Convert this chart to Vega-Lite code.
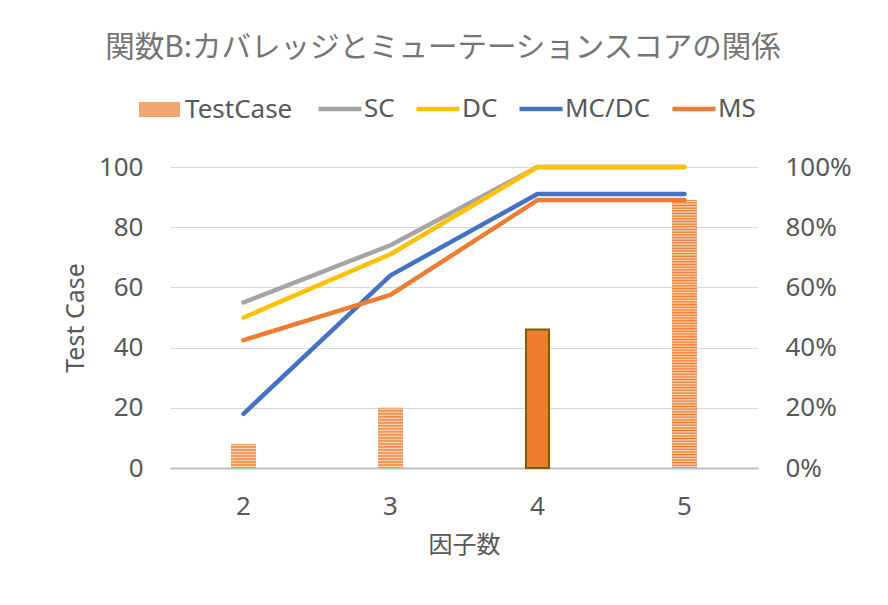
{
  "$schema": "https://vega.github.io/schema/vega-lite/v6.json",
  "width": 588,
  "height": 301,
  "autosize": {"type": "none"},
  "padding": {"left": 170, "top": 167, "right": 130, "bottom": 137},
  "background": "white",
  "title": {
    "text": "関数B:カバレッジとミューテーションスコアの関係",
    "font": "Noto Sans CJK JP",
    "fontSize": 29.5,
    "fontWeight": "normal",
    "color": "#757575",
    "anchor": "middle",
    "dx": -21,
    "offset": 22
  },
  "datasets": {
    "tc": [
      {"factor": "2", "TestCase": 8},
      {"factor": "3", "TestCase": 20},
      {"factor": "4", "TestCase": 46},
      {"factor": "5", "TestCase": 89}
    ],
    "cov": [
      {"factor": "2", "series": "SC", "value": 0.55},
      {"factor": "3", "series": "SC", "value": 0.74},
      {"factor": "4", "series": "SC", "value": 1.0},
      {"factor": "5", "series": "SC", "value": 1.0},
      {"factor": "2", "series": "DC", "value": 0.5},
      {"factor": "3", "series": "DC", "value": 0.71},
      {"factor": "4", "series": "DC", "value": 1.0},
      {"factor": "5", "series": "DC", "value": 1.0},
      {"factor": "2", "series": "MC/DC", "value": 0.18},
      {"factor": "3", "series": "MC/DC", "value": 0.64},
      {"factor": "4", "series": "MC/DC", "value": 0.91},
      {"factor": "5", "series": "MC/DC", "value": 0.91},
      {"factor": "2", "series": "MS", "value": 0.425},
      {"factor": "3", "series": "MS", "value": 0.575},
      {"factor": "4", "series": "MS", "value": 0.89},
      {"factor": "5", "series": "MS", "value": 0.89}
    ]
  },
  "config": {
    "view": {"stroke": null},
    "axis": {
      "labelFont": "Noto Sans",
      "labelFontSize": 26,
      "labelColor": "#595959",
      "titleFont": "Noto Sans",
      "titleColor": "#595959",
      "titleFontWeight": "normal",
      "ticks": false,
      "tickSize": 0,
      "gridColor": "#D9D9D9",
      "gridWidth": 1
    },
    "legend": {
      "labelFont": "Noto Sans",
      "labelFontSize": 26,
      "labelColor": "#595959"
    }
  },
  "layer": [
    {
      "data": {"name": "tc"},
      "encoding": {
        "x": {
          "field": "factor",
          "type": "ordinal",
          "scale": {"domain": ["2", "3", "4", "5"], "paddingInner": 0, "paddingOuter": 0},
          "axis": {
            "title": "因子数",
            "titleFont": "Noto Sans CJK JP",
            "titleFontSize": 24,
            "titlePadding": 14,
            "labelAngle": 0,
            "labelPadding": 25,
            "domainColor": "#BFBFBF",
            "domainWidth": 2,
            "grid": false
          }
        },
        "y": {
          "field": "TestCase",
          "type": "quantitative",
          "scale": {"domain": [0, 100]},
          "axis": {
            "title": "Test Case",
            "titleFontSize": 25,
            "titlePadding": 10,
            "values": [0, 20, 40, 60, 80, 100],
            "labelPadding": 27,
            "domain": false,
            "grid": true
          }
        }
      },
      "layer": [
        {
          "transform": [{"filter": "false"}],
          "mark": {"type": "bar", "size": 25},
          "encoding": {
            "fill": {
              "datum": "TestCase",
              "type": "nominal",
              "scale": {"domain": ["TestCase"], "range": ["#F2A56F"]},
              "legend": {
                "title": null,
                "orient": "none",
                "legendX": -31,
                "legendY": -78,
                "labelOffset": 5,
                "symbolType": "M-1,-0.36H1V0.36H-1Z",
                "symbolSize": 1681,
                "symbolStrokeWidth": 0
              }
            }
          }
        },
        {
          "transform": [{"filter": "datum.factor == '2'"}],
          "mark": {
            "type": "bar",
            "size": 25,
            "fill": {"gradient": "linear", "x1": 0, "y1": 0, "x2": 0, "y2": 1, "stops": [
              {"offset": 0, "color": "#ED7D31"}, {"offset": 0.0625, "color": "#FBD4B6"},
              {"offset": 0.125, "color": "#ED7D31"}, {"offset": 0.1875, "color": "#FBD4B6"},
              {"offset": 0.25, "color": "#ED7D31"}, {"offset": 0.3125, "color": "#FBD4B6"},
              {"offset": 0.375, "color": "#ED7D31"}, {"offset": 0.4375, "color": "#FBD4B6"},
              {"offset": 0.5, "color": "#ED7D31"}, {"offset": 0.5625, "color": "#FBD4B6"},
              {"offset": 0.625, "color": "#ED7D31"}, {"offset": 0.6875, "color": "#FBD4B6"},
              {"offset": 0.75, "color": "#ED7D31"}, {"offset": 0.8125, "color": "#FBD4B6"},
              {"offset": 0.875, "color": "#ED7D31"}, {"offset": 0.9375, "color": "#FBD4B6"},
              {"offset": 1, "color": "#ED7D31"}
            ]}
          }
        },
        {
          "transform": [{"filter": "datum.factor == '3'"}],
          "mark": {
            "type": "bar",
            "size": 25,
            "fill": {"gradient": "linear", "x1": 0, "y1": 0, "x2": 0, "y2": 1, "stops": [
              {"offset": 0, "color": "#ED7D31"}, {"offset": 0.025, "color": "#FBD4B6"},
              {"offset": 0.05, "color": "#ED7D31"}, {"offset": 0.075, "color": "#FBD4B6"},
              {"offset": 0.1, "color": "#ED7D31"}, {"offset": 0.125, "color": "#FBD4B6"},
              {"offset": 0.15, "color": "#ED7D31"}, {"offset": 0.175, "color": "#FBD4B6"},
              {"offset": 0.2, "color": "#ED7D31"}, {"offset": 0.225, "color": "#FBD4B6"},
              {"offset": 0.25, "color": "#ED7D31"}, {"offset": 0.275, "color": "#FBD4B6"},
              {"offset": 0.3, "color": "#ED7D31"}, {"offset": 0.325, "color": "#FBD4B6"},
              {"offset": 0.35, "color": "#ED7D31"}, {"offset": 0.375, "color": "#FBD4B6"},
              {"offset": 0.4, "color": "#ED7D31"}, {"offset": 0.425, "color": "#FBD4B6"},
              {"offset": 0.45, "color": "#ED7D31"}, {"offset": 0.475, "color": "#FBD4B6"},
              {"offset": 0.5, "color": "#ED7D31"}, {"offset": 0.525, "color": "#FBD4B6"},
              {"offset": 0.55, "color": "#ED7D31"}, {"offset": 0.575, "color": "#FBD4B6"},
              {"offset": 0.6, "color": "#ED7D31"}, {"offset": 0.625, "color": "#FBD4B6"},
              {"offset": 0.65, "color": "#ED7D31"}, {"offset": 0.675, "color": "#FBD4B6"},
              {"offset": 0.7, "color": "#ED7D31"}, {"offset": 0.725, "color": "#FBD4B6"},
              {"offset": 0.75, "color": "#ED7D31"}, {"offset": 0.775, "color": "#FBD4B6"},
              {"offset": 0.8, "color": "#ED7D31"}, {"offset": 0.825, "color": "#FBD4B6"},
              {"offset": 0.85, "color": "#ED7D31"}, {"offset": 0.875, "color": "#FBD4B6"},
              {"offset": 0.9, "color": "#ED7D31"}, {"offset": 0.925, "color": "#FBD4B6"},
              {"offset": 0.95, "color": "#ED7D31"}, {"offset": 0.975, "color": "#FBD4B6"},
              {"offset": 1, "color": "#ED7D31"}
            ]}
          }
        },
        {
          "transform": [{"filter": "datum.factor == '4'"}],
          "mark": {
            "type": "bar",
            "size": 23,
            "fill": "#ED7D31",
            "stroke": "#7F6000",
            "strokeWidth": 2
          }
        },
        {
          "transform": [{"filter": "datum.factor == '5'"}],
          "mark": {
            "type": "bar",
            "size": 25,
            "fill": {"gradient": "linear", "x1": 0, "y1": 0, "x2": 0, "y2": 1, "stops": [
              {"offset": 0, "color": "#ED7D31"}, {"offset": 0.005, "color": "#FBD4B6"},
              {"offset": 0.01, "color": "#ED7D31"}, {"offset": 0.015, "color": "#FBD4B6"},
              {"offset": 0.02, "color": "#ED7D31"}, {"offset": 0.025, "color": "#FBD4B6"},
              {"offset": 0.03, "color": "#ED7D31"}, {"offset": 0.035, "color": "#FBD4B6"},
              {"offset": 0.04, "color": "#ED7D31"}, {"offset": 0.045, "color": "#FBD4B6"},
              {"offset": 0.05, "color": "#ED7D31"}, {"offset": 0.055, "color": "#FBD4B6"},
              {"offset": 0.06, "color": "#ED7D31"}, {"offset": 0.065, "color": "#FBD4B6"},
              {"offset": 0.07, "color": "#ED7D31"}, {"offset": 0.075, "color": "#FBD4B6"},
              {"offset": 0.08, "color": "#ED7D31"}, {"offset": 0.085, "color": "#FBD4B6"},
              {"offset": 0.09, "color": "#ED7D31"}, {"offset": 0.095, "color": "#FBD4B6"},
              {"offset": 0.1, "color": "#ED7D31"}, {"offset": 0.105, "color": "#FBD4B6"},
              {"offset": 0.11, "color": "#ED7D31"}, {"offset": 0.115, "color": "#FBD4B6"},
              {"offset": 0.12, "color": "#ED7D31"}, {"offset": 0.125, "color": "#FBD4B6"},
              {"offset": 0.13, "color": "#ED7D31"}, {"offset": 0.135, "color": "#FBD4B6"},
              {"offset": 0.14, "color": "#ED7D31"}, {"offset": 0.145, "color": "#FBD4B6"},
              {"offset": 0.15, "color": "#ED7D31"}, {"offset": 0.155, "color": "#FBD4B6"},
              {"offset": 0.16, "color": "#ED7D31"}, {"offset": 0.165, "color": "#FBD4B6"},
              {"offset": 0.17, "color": "#ED7D31"}, {"offset": 0.175, "color": "#FBD4B6"},
              {"offset": 0.18, "color": "#ED7D31"}, {"offset": 0.185, "color": "#FBD4B6"},
              {"offset": 0.19, "color": "#ED7D31"}, {"offset": 0.195, "color": "#FBD4B6"},
              {"offset": 0.2, "color": "#ED7D31"}, {"offset": 0.205, "color": "#FBD4B6"},
              {"offset": 0.21, "color": "#ED7D31"}, {"offset": 0.215, "color": "#FBD4B6"},
              {"offset": 0.22, "color": "#ED7D31"}, {"offset": 0.225, "color": "#FBD4B6"},
              {"offset": 0.23, "color": "#ED7D31"}, {"offset": 0.235, "color": "#FBD4B6"},
              {"offset": 0.24, "color": "#ED7D31"}, {"offset": 0.245, "color": "#FBD4B6"},
              {"offset": 0.25, "color": "#ED7D31"}, {"offset": 0.255, "color": "#FBD4B6"},
              {"offset": 0.26, "color": "#ED7D31"}, {"offset": 0.265, "color": "#FBD4B6"},
              {"offset": 0.27, "color": "#ED7D31"}, {"offset": 0.275, "color": "#FBD4B6"},
              {"offset": 0.28, "color": "#ED7D31"}, {"offset": 0.285, "color": "#FBD4B6"},
              {"offset": 0.29, "color": "#ED7D31"}, {"offset": 0.295, "color": "#FBD4B6"},
              {"offset": 0.3, "color": "#ED7D31"}, {"offset": 0.305, "color": "#FBD4B6"},
              {"offset": 0.31, "color": "#ED7D31"}, {"offset": 0.315, "color": "#FBD4B6"},
              {"offset": 0.32, "color": "#ED7D31"}, {"offset": 0.325, "color": "#FBD4B6"},
              {"offset": 0.33, "color": "#ED7D31"}, {"offset": 0.335, "color": "#FBD4B6"},
              {"offset": 0.34, "color": "#ED7D31"}, {"offset": 0.345, "color": "#FBD4B6"},
              {"offset": 0.35, "color": "#ED7D31"}, {"offset": 0.355, "color": "#FBD4B6"},
              {"offset": 0.36, "color": "#ED7D31"}, {"offset": 0.365, "color": "#FBD4B6"},
              {"offset": 0.37, "color": "#ED7D31"}, {"offset": 0.375, "color": "#FBD4B6"},
              {"offset": 0.38, "color": "#ED7D31"}, {"offset": 0.385, "color": "#FBD4B6"},
              {"offset": 0.39, "color": "#ED7D31"}, {"offset": 0.395, "color": "#FBD4B6"},
              {"offset": 0.4, "color": "#ED7D31"}, {"offset": 0.405, "color": "#FBD4B6"},
              {"offset": 0.41, "color": "#ED7D31"}, {"offset": 0.415, "color": "#FBD4B6"},
              {"offset": 0.42, "color": "#ED7D31"}, {"offset": 0.425, "color": "#FBD4B6"},
              {"offset": 0.43, "color": "#ED7D31"}, {"offset": 0.435, "color": "#FBD4B6"},
              {"offset": 0.44, "color": "#ED7D31"}, {"offset": 0.445, "color": "#FBD4B6"},
              {"offset": 0.45, "color": "#ED7D31"}, {"offset": 0.455, "color": "#FBD4B6"},
              {"offset": 0.46, "color": "#ED7D31"}, {"offset": 0.465, "color": "#FBD4B6"},
              {"offset": 0.47, "color": "#ED7D31"}, {"offset": 0.475, "color": "#FBD4B6"},
              {"offset": 0.48, "color": "#ED7D31"}, {"offset": 0.485, "color": "#FBD4B6"},
              {"offset": 0.49, "color": "#ED7D31"}, {"offset": 0.495, "color": "#FBD4B6"},
              {"offset": 0.5, "color": "#ED7D31"}, {"offset": 0.505, "color": "#FBD4B6"},
              {"offset": 0.51, "color": "#ED7D31"}, {"offset": 0.515, "color": "#FBD4B6"},
              {"offset": 0.52, "color": "#ED7D31"}, {"offset": 0.525, "color": "#FBD4B6"},
              {"offset": 0.53, "color": "#ED7D31"}, {"offset": 0.535, "color": "#FBD4B6"},
              {"offset": 0.54, "color": "#ED7D31"}, {"offset": 0.545, "color": "#FBD4B6"},
              {"offset": 0.55, "color": "#ED7D31"}, {"offset": 0.555, "color": "#FBD4B6"},
              {"offset": 0.56, "color": "#ED7D31"}, {"offset": 0.565, "color": "#FBD4B6"},
              {"offset": 0.57, "color": "#ED7D31"}, {"offset": 0.575, "color": "#FBD4B6"},
              {"offset": 0.58, "color": "#ED7D31"}, {"offset": 0.585, "color": "#FBD4B6"},
              {"offset": 0.59, "color": "#ED7D31"}, {"offset": 0.595, "color": "#FBD4B6"},
              {"offset": 0.6, "color": "#ED7D31"}, {"offset": 0.605, "color": "#FBD4B6"},
              {"offset": 0.61, "color": "#ED7D31"}, {"offset": 0.615, "color": "#FBD4B6"},
              {"offset": 0.62, "color": "#ED7D31"}, {"offset": 0.625, "color": "#FBD4B6"},
              {"offset": 0.63, "color": "#ED7D31"}, {"offset": 0.635, "color": "#FBD4B6"},
              {"offset": 0.64, "color": "#ED7D31"}, {"offset": 0.645, "color": "#FBD4B6"},
              {"offset": 0.65, "color": "#ED7D31"}, {"offset": 0.655, "color": "#FBD4B6"},
              {"offset": 0.66, "color": "#ED7D31"}, {"offset": 0.665, "color": "#FBD4B6"},
              {"offset": 0.67, "color": "#ED7D31"}, {"offset": 0.675, "color": "#FBD4B6"},
              {"offset": 0.68, "color": "#ED7D31"}, {"offset": 0.685, "color": "#FBD4B6"},
              {"offset": 0.69, "color": "#ED7D31"}, {"offset": 0.695, "color": "#FBD4B6"},
              {"offset": 0.7, "color": "#ED7D31"}, {"offset": 0.705, "color": "#FBD4B6"},
              {"offset": 0.71, "color": "#ED7D31"}, {"offset": 0.715, "color": "#FBD4B6"},
              {"offset": 0.72, "color": "#ED7D31"}, {"offset": 0.725, "color": "#FBD4B6"},
              {"offset": 0.73, "color": "#ED7D31"}, {"offset": 0.735, "color": "#FBD4B6"},
              {"offset": 0.74, "color": "#ED7D31"}, {"offset": 0.745, "color": "#FBD4B6"},
              {"offset": 0.75, "color": "#ED7D31"}, {"offset": 0.755, "color": "#FBD4B6"},
              {"offset": 0.76, "color": "#ED7D31"}, {"offset": 0.765, "color": "#FBD4B6"},
              {"offset": 0.77, "color": "#ED7D31"}, {"offset": 0.775, "color": "#FBD4B6"},
              {"offset": 0.78, "color": "#ED7D31"}, {"offset": 0.785, "color": "#FBD4B6"},
              {"offset": 0.79, "color": "#ED7D31"}, {"offset": 0.795, "color": "#FBD4B6"},
              {"offset": 0.8, "color": "#ED7D31"}, {"offset": 0.805, "color": "#FBD4B6"},
              {"offset": 0.81, "color": "#ED7D31"}, {"offset": 0.815, "color": "#FBD4B6"},
              {"offset": 0.82, "color": "#ED7D31"}, {"offset": 0.825, "color": "#FBD4B6"},
              {"offset": 0.83, "color": "#ED7D31"}, {"offset": 0.835, "color": "#FBD4B6"},
              {"offset": 0.84, "color": "#ED7D31"}, {"offset": 0.845, "color": "#FBD4B6"},
              {"offset": 0.85, "color": "#ED7D31"}, {"offset": 0.855, "color": "#FBD4B6"},
              {"offset": 0.86, "color": "#ED7D31"}, {"offset": 0.865, "color": "#FBD4B6"},
              {"offset": 0.87, "color": "#ED7D31"}, {"offset": 0.875, "color": "#FBD4B6"},
              {"offset": 0.88, "color": "#ED7D31"}, {"offset": 0.885, "color": "#FBD4B6"},
              {"offset": 0.89, "color": "#ED7D31"}, {"offset": 0.895, "color": "#FBD4B6"},
              {"offset": 0.9, "color": "#ED7D31"}, {"offset": 0.905, "color": "#FBD4B6"},
              {"offset": 0.91, "color": "#ED7D31"}, {"offset": 0.915, "color": "#FBD4B6"},
              {"offset": 0.92, "color": "#ED7D31"}, {"offset": 0.925, "color": "#FBD4B6"},
              {"offset": 0.93, "color": "#ED7D31"}, {"offset": 0.935, "color": "#FBD4B6"},
              {"offset": 0.94, "color": "#ED7D31"}, {"offset": 0.945, "color": "#FBD4B6"},
              {"offset": 0.95, "color": "#ED7D31"}, {"offset": 0.955, "color": "#FBD4B6"},
              {"offset": 0.96, "color": "#ED7D31"}, {"offset": 0.965, "color": "#FBD4B6"},
              {"offset": 0.97, "color": "#ED7D31"}, {"offset": 0.975, "color": "#FBD4B6"},
              {"offset": 0.98, "color": "#ED7D31"}, {"offset": 0.985, "color": "#FBD4B6"},
              {"offset": 0.99, "color": "#ED7D31"}, {"offset": 0.995, "color": "#FBD4B6"},
              {"offset": 1, "color": "#ED7D31"}
            ]}
          }
        }
      ]
    },
    {
      "data": {"name": "cov"},
      "mark": {"type": "line", "strokeWidth": 4.5, "strokeCap": "round", "strokeJoin": "round"},
      "encoding": {
        "x": {"field": "factor", "type": "ordinal"},
        "y": {
          "field": "value",
          "type": "quantitative",
          "scale": {"domain": [0, 1]},
          "axis": {
            "orient": "right",
            "title": null,
            "format": ".0%",
            "values": [0, 0.2, 0.4, 0.6, 0.8, 1],
            "labelPadding": 27,
            "domain": false,
            "grid": false
          }
        },
        "color": {
          "field": "series",
          "type": "nominal",
          "scale": {
            "domain": ["SC", "DC", "MC/DC", "MS"],
            "range": ["#A5A5A5", "#FFC000", "#4472C4", "#ED7D31"]
          },
          "legend": {
            "title": null,
            "orient": "none",
            "legendX": 146,
            "legendY": -82,
            "direction": "horizontal",
            "columns": 4,
            "columnPadding": 12,
            "labelOffset": 0,
            "symbolType": "stroke",
            "symbolSize": 1849,
            "symbolStrokeWidth": 4.5
          }
        }
      }
    }
  ],
  "resolve": {"scale": {"y": "independent"}}
}
